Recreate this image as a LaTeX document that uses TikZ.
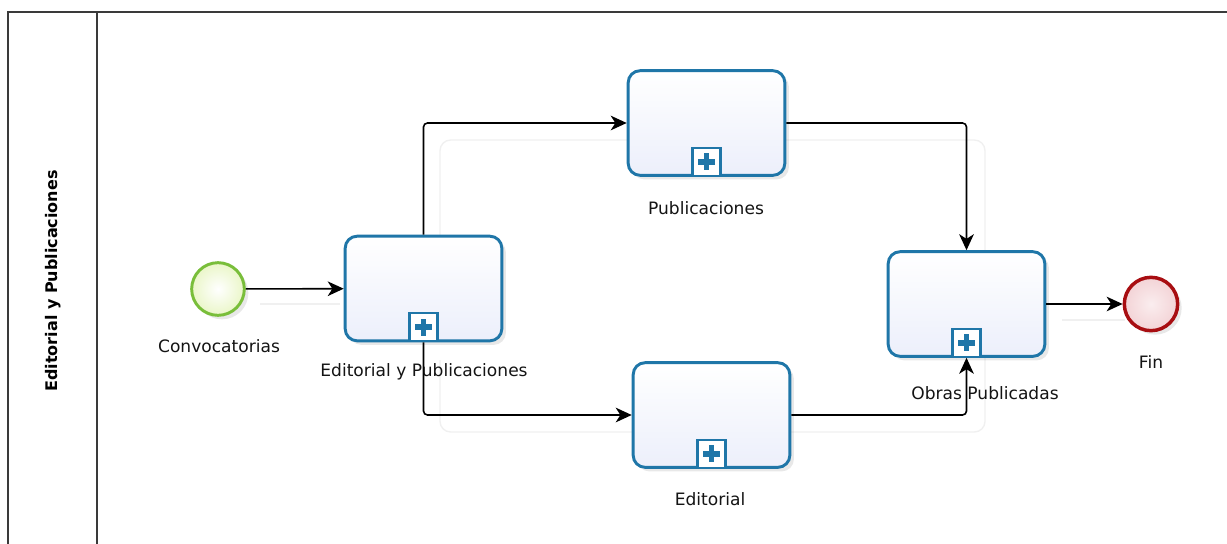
\documentclass[tikz,border=0pt]{standalone}
\usepackage{fontspec}
\setmainfont{DejaVu Sans}
\usetikzlibrary{shadows,arrows.meta}
\definecolor{taskblue}{HTML}{1F76A8}
\definecolor{taskfill}{HTML}{ECEFFB}
\definecolor{startgreen}{HTML}{79BE3A}
\definecolor{startfill}{HTML}{EAF6C8}
\definecolor{endred}{HTML}{A80E12}
\definecolor{endfill}{HTML}{F3D3D6}
\definecolor{poolgray}{HTML}{3A3A3A}
\begin{document}
\begin{tikzpicture}[x=0.75pt,y=-0.75pt,
  task/.style={draw=taskblue, line width=2.2pt, rounded corners=9pt,
    minimum width=117.5pt, minimum height=78.5pt, top color=white, bottom color=taskfill,
    drop shadow={opacity=0.18, shadow xshift=3pt, shadow yshift=-3pt}},
  marker/.style={draw=taskblue, line width=1.6pt, fill=white, minimum size=21pt, inner sep=0pt,
    path picture={
      \fill[taskblue] ([xshift=-6.5pt,yshift=-2.2pt]path picture bounding box.center) rectangle ([xshift=6.5pt,yshift=2.2pt]path picture bounding box.center);
      \fill[taskblue] ([xshift=-2.2pt,yshift=-6.5pt]path picture bounding box.center) rectangle ([xshift=2.2pt,yshift=6.5pt]path picture bounding box.center);}},
  startev/.style={circle, draw=startgreen, line width=2.2pt, minimum size=39.5pt, inner sep=0pt,
    inner color=white, outer color=startfill,
    drop shadow={opacity=0.18, shadow xshift=3pt, shadow yshift=-3pt}},
  endev/.style={circle, draw=endred, line width=2.6pt, minimum size=40pt, inner sep=0pt,
    inner color=endfill!40, outer color=endfill,
    drop shadow={opacity=0.18, shadow xshift=3pt, shadow yshift=-3pt}},
  lbl/.style={font=\fontsize{12.8}{15}\selectfont, text=black!92, inner sep=0pt},
  flow/.style={draw=black, line width=1.2pt, rounded corners=3pt, -{Stealth[length=12pt,width=11pt,inset=3.5pt]}},
  ghost/.style={draw=black!6, line width=1pt, rounded corners=8pt},
  pool/.style={draw=poolgray, line width=1.2pt}
]
\useasboundingbox (0,0) rectangle (1227,543);
\clip (0,0) rectangle (1227,543);
\fill[white] (0,0) rectangle (1227,543);
% pool and lane
\draw[pool] (8,12) rectangle (1240,560);
\draw[pool] (97,12) -- (97,560);
\node[rotate=90, font=\bfseries\fontsize{12}{14}\selectfont, inner sep=0pt] (lane) at (53,281) {Editorial y Publicaciones};
% faint shadows of connectors
\draw[ghost] (440,300) -- (440,140) -- (985,140) -- (985,432) -- (440,432) -- (440,360);
\draw[ghost] (260,304) -- (340,304);
\draw[ghost] (1062,320) -- (1125,320);
% events and tasks
\node[startev] (s) at (218,289) {};
\node[task] (t1) at (423.5,288.5) {};
\node[task] (t2) at (706.5,123) {};
\node[task] (t3) at (711.5,415) {};
\node[task] (t4) at (966.5,304) {};
\node[endev] (e) at (1151,304) {};
\node[marker, anchor=south] (m1) at (t1.south) {};
\node[marker, anchor=south] (m2) at (t2.south) {};
\node[marker, anchor=south] (m3) at (t3.south) {};
\node[marker, anchor=south] (m4) at (t4.south) {};
% labels
\node[lbl] (ls) at (219,346) {Convocatorias};
\node[lbl] (l1) at (424,372) {Editorial y Publicaciones};
\node[lbl] (l2) at (706,208) {Publicaciones};
\node[lbl] (l3) at (710,499) {Editorial};
\node[lbl] (l4) at (985,393) {Obras Publicadas};
\node[lbl] (le) at (1151,362) {Fin};
% connectors
\draw[flow] (s) -- (t1);
\draw[flow] (t1.north) |- (t2.west);
\draw[flow] (t1.south) |- (t3.west);
\draw[flow] (t2.east) -| (t4.north);
\draw[flow] (t3.east) -| (t4.south);
\draw[flow] (t4.east) -- (e.west);
\end{tikzpicture}
\end{document}
